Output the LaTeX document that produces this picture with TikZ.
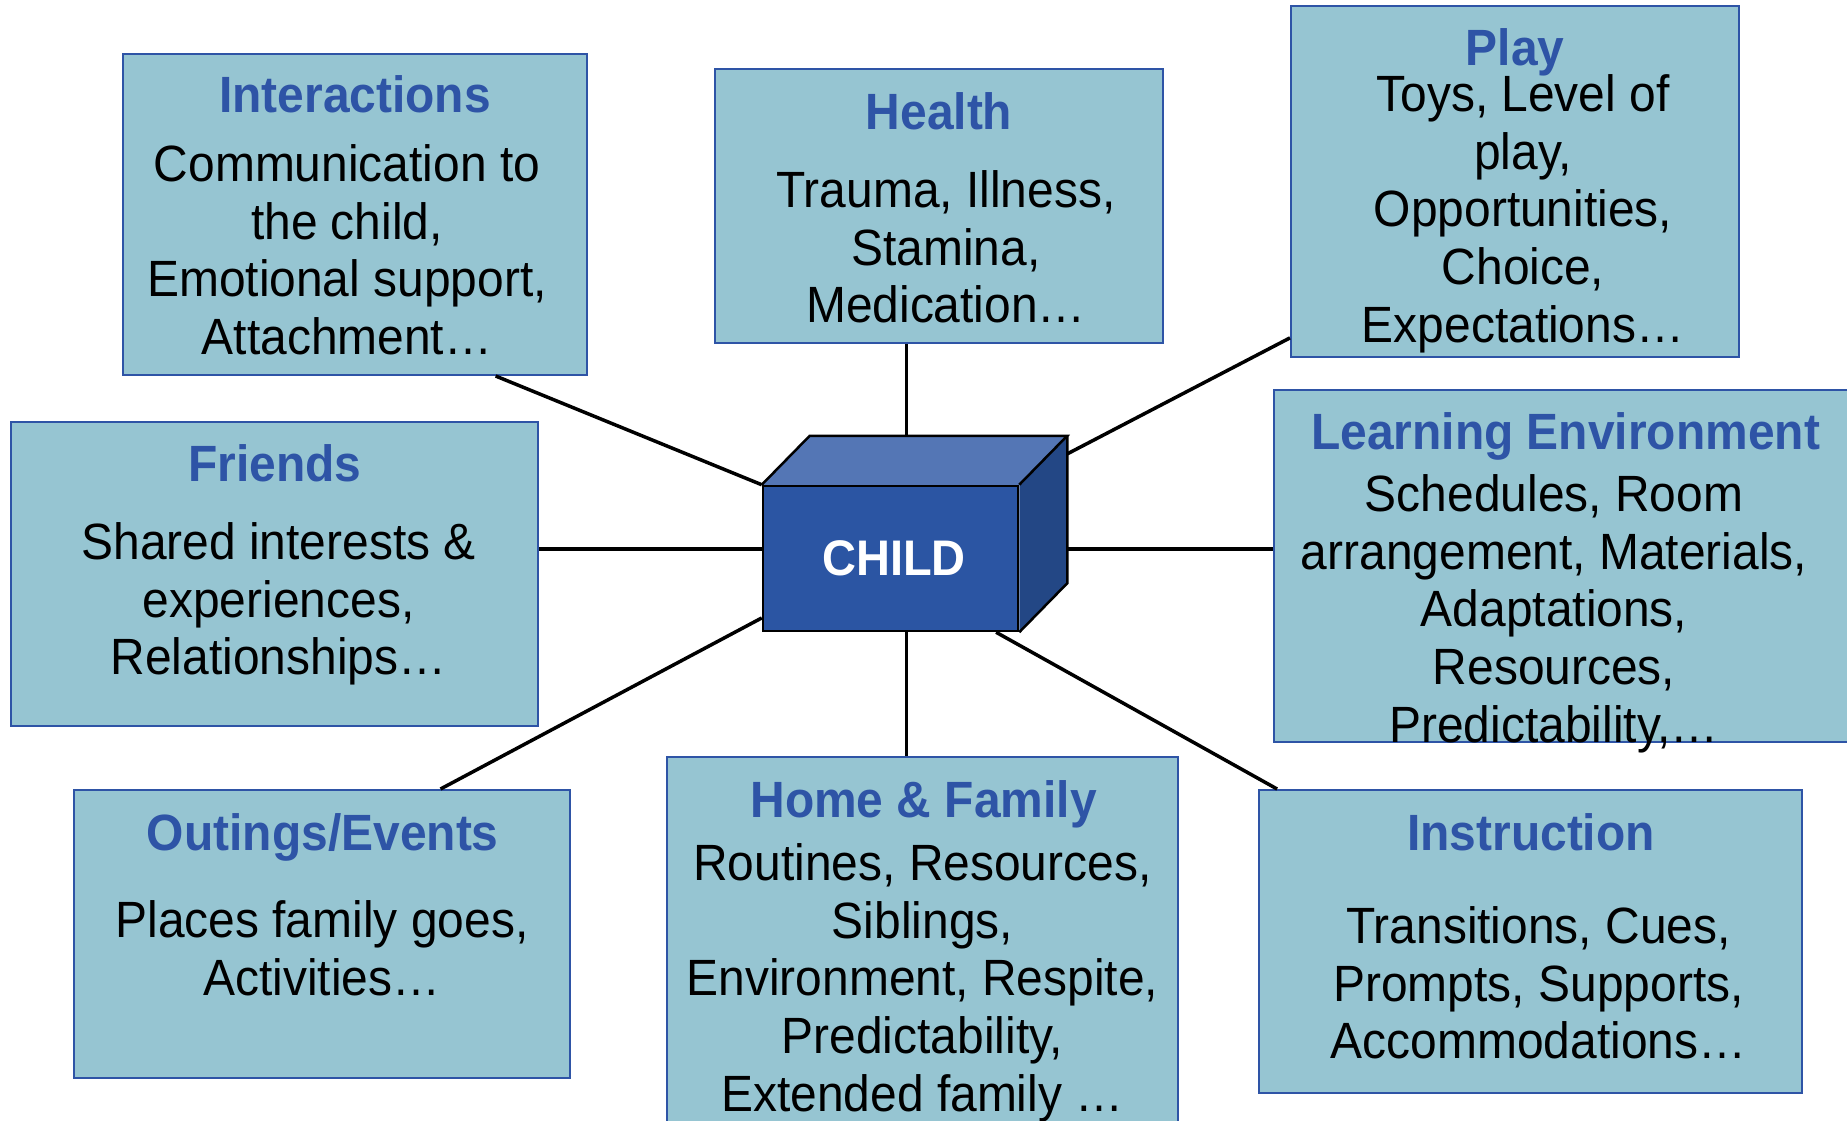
\documentclass[tikz,border=0pt]{standalone}
\usepackage{fontspec}
\setmainfont{Liberation Sans}[FakeStretch=0.94]
\usetikzlibrary{calc}

\definecolor{boxfill}{RGB}{150,197,210}
\definecolor{boxline}{RGB}{46,84,166}
\definecolor{ttlblue}{RGB}{46,84,166}
\definecolor{cubefront}{RGB}{43,85,163}
\definecolor{cubetop}{RGB}{84,118,181}
\definecolor{cubeside}{RGB}{35,71,133}

\begin{document}
\begin{tikzpicture}[x=1pt,y=-1pt,
  topic/.style={rectangle,draw=boxline,fill=boxfill,line width=2pt,inner sep=0pt},
  ttl/.style={inner sep=0pt,anchor=base,text=ttlblue,font=\bfseries\fontsize{51}{58}\selectfont},
  body/.style={inner sep=0pt,anchor=base,font=\fontsize{51}{57.7}\selectfont},
  link/.style={draw=black,line width=3.5pt},
  cubeedge/.style={draw=black,line width=2.5pt,line join=miter}]

\clip (0,0) rectangle (1847,1121);

% ---- topic boxes ----
\node[topic,minimum width=464.5pt,minimum height=321pt] (inter)   at (354.75,214.5) {};
\node[topic,minimum width=448pt,  minimum height=273.5pt] (health) at (939,206.25) {};
\node[topic,minimum width=448pt,  minimum height=351pt] (play)     at (1515,181.5) {};
\node[topic,minimum width=606pt,  minimum height=352pt] (learn)    at (1577,566) {};
\node[topic,minimum width=527.4pt,minimum height=304pt] (friends)  at (274.3,574) {};
\node[topic,minimum width=496pt,  minimum height=288pt] (outings)  at (322,934) {};
\node[topic,minimum width=511pt,  minimum height=383pt] (home)     at (922.5,948.5) {};
\node[topic,minimum width=543pt,  minimum height=303pt] (instr)    at (1530.5,941.5) {};

% ---- central cube ----
\node[rectangle,draw=black,fill=cubefront,line width=2.5pt,inner sep=0pt,
      minimum width=255pt,minimum height=145pt] (child) at (890.5,558.5) {};
\coordinate (btl) at ($(child.north west)+(48,-49)$);
\coordinate (btr) at ($(child.north east)+(48,-49)$);
\coordinate (bbr) at ($(child.south east)+(48,-49)$);
\fill[cubetop]  (child.north west) -- (btl) -- (btr) -- (child.north east) -- cycle;
\fill[cubeside] (child.north east) -- (btr) -- (bbr) -- (child.south east) -- cycle;
\draw[cubeedge] (child.north west) -- (btl) -- (btr) -- (child.north east);
\draw[cubeedge] (btr) -- (bbr) -- (child.south east);
\node[inner sep=0pt,text=white,font=\bfseries\fontsize{50}{60}\selectfont] (childlbl) at ($(child.center)+(3.5,0)$) {CHILD};

% ---- connectors ----
\coordinate (hx) at ($(health.south west)!0.428!(health.south east)$);
\draw[link] ($(inter.south west)!0.802!(inter.south east)$) -- (child.north west);
\draw[link] (hx) -- (hx |- btl);
\draw[link] ($(play.north west)!0.943!(play.south west)$) -- ($(btr)!0.123!(bbr)$);
\coordinate (ml) at ($(child.north west)!0.434!(child.south west)$);
\draw[link] (friends.east |- ml) -- (ml);
\coordinate (mr) at ($(btr)!0.767!(bbr)$);
\draw[link] (mr) -- (learn.west |- mr);
\draw[link] ($(outings.north west)!0.738!(outings.north east)$) -- ($(child.north west)!0.903!(child.south west)$);
\draw[link] (child.south -| hx) -- (home.north -| hx);
\draw[link] ($(child.south west)!0.91!(child.south east)$) -- ($(instr.north west)!0.035!(instr.north east)$);

% ---- texts ----
\begin{scope}[yshift=-2.5pt]
\node[ttl] (interT) at (355,110) {Interactions};
\node[body] (interB) at (347,179) {\begin{tabular}[t]{@{}c@{}}Communication to\\the child,\\Emotional support,\\Attachment…\end{tabular}};

\node[ttl] (healthT) at (939,127) {Health};
\node[body] (healthB) at (946,205) {\begin{tabular}[t]{@{}c@{}}Trauma, Illness,\\Stamina,\\Medication…\end{tabular}};

\node[ttl] (playT) at (1515,63) {Play};
\node[body] (playB) at (1523,109) {\begin{tabular}[t]{@{}c@{}}Toys, Level of\\play,\\Opportunities,\\Choice,\\Expectations…\end{tabular}};

\node[ttl] (learnT) at (1565.6,447) {Learning Environment};
\node[body] (learnB) at (1554,509) {\begin{tabular}[t]{@{}c@{}}Schedules, Room\\arrangement, Materials,\\Adaptations,\\Resources,\\Predictability,…\end{tabular}};

\node[ttl] (friendsT) at (275,479) {Friends};
\node[body] (friendsB) at (278.6,557) {\begin{tabular}[t]{@{}c@{}}Shared interests \&\\experiences,\\Relationships…\end{tabular}};

\node[ttl] (outingsT) at (322.8,848) {Outings/Events};
\node[body] (outingsB) at (322,935) {\begin{tabular}[t]{@{}c@{}}Places family goes,\\Activities…\end{tabular}};

\node[ttl] (homeT) at (923.6,815) {Home \& Family};
\node[body] (homeB) at (922.4,878) {\begin{tabular}[t]{@{}c@{}}Routines, Resources,\\Siblings,\\Environment, Respite,\\Predictability,\\Extended family …\end{tabular}};

\node[ttl] (instrT) at (1531,848) {Instruction};
\node[body] (instrB) at (1538.5,941) {\begin{tabular}[t]{@{}c@{}}Transitions, Cues,\\Prompts, Supports,\\Accommodations…\end{tabular}};
\end{scope}

\end{tikzpicture}
\end{document}
